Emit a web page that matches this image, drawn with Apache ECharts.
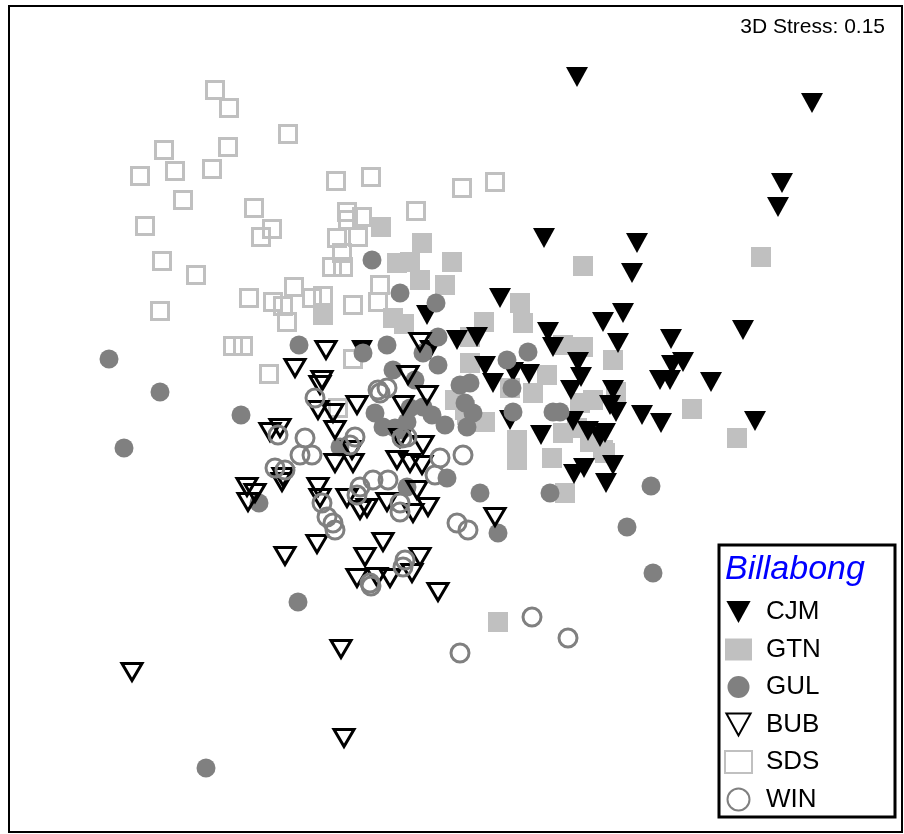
<!DOCTYPE html>
<html><head><meta charset="utf-8">
<script src="https://cdn.jsdelivr.net/npm/echarts@6/dist/echarts.min.js"></script>
<style>html,body{margin:0;padding:0;background:#fff}#c{width:904px;height:834px}</style>
</head><body><div id="c"></div>
<script>
// nMDS ordination coordinates (in plot units)
const CJM = [[577,77],[812,103],[782,183],[778,207],[544,238],[637,243],[632,273],[500,298],[623,313],[603,322],[743,330],[548,332],[671,339],[618,343],[553,347],[427,315],[430,350],[457,340],[477,337],[485,366],[493,383],[513,372],[529,374],[578,362],[581,377],[571,390],[683,362],[672,365],[660,380],[670,380],[711,382],[613,390],[616,412],[642,415],[661,423],[755,421],[605,433],[613,465],[606,483],[510,420],[541,435],[573,421],[588,431],[574,474],[584,468],[600,437],[610,405],[362,350]];
const GTN = [[761,257],[583,266],[381,227],[422,243],[452,262],[410,262],[397,263],[445,285],[420,280],[520,303],[484,322],[523,323],[323,315],[393,318],[404,324],[563,345],[583,347],[613,360],[616,392],[692,409],[737,438],[605,453],[470,337],[470,363],[455,400],[465,410],[485,422],[467,415],[510,388],[533,393],[517,440],[517,460],[552,458],[547,375],[580,403],[593,400],[563,433],[590,442],[603,450],[577,428],[565,493],[498,622]];
const GUL = [[372,260],[400,293],[436,303],[299,345],[109,359],[160,392],[241,415],[124,448],[259,503],[298,602],[206,768],[651,486],[627,527],[653,573],[363,353],[387,345],[438,337],[423,353],[438,365],[393,370],[415,380],[460,385],[470,383],[507,360],[512,388],[513,412],[553,412],[560,412],[528,352],[480,493],[550,493],[423,407],[445,425],[432,415],[410,408],[407,422],[375,413],[383,427],[340,447],[402,430],[465,403],[473,413],[467,427],[447,478],[407,487],[498,533],[395,428]];
const BUB = [[132,672],[344,738],[341,649],[285,556],[317,544],[295,368],[326,350],[322,380],[270,432],[280,428],[283,477],[247,487],[255,493],[248,502],[318,410],[333,413],[357,405],[320,385],[335,430],[352,450],[335,463],[353,463],[282,482],[318,487],[320,498],[347,498],[360,510],[367,508],[383,542],[365,557],[420,557],[357,578],[377,577],[390,578],[412,573],[438,592],[400,438],[423,445],[397,460],[410,463],[422,465],[417,490],[387,502],[413,513],[428,507],[408,375],[427,395],[403,405],[420,342],[495,517]];
const SDS = [[215,90],[229,108],[288,134],[164,150],[228,147],[175,171],[140,176],[212,169],[183,200],[254,208],[272,229],[261,237],[145,226],[162,261],[196,275],[336,181],[371,177],[462,188],[495,182],[416,211],[347,212],[362,217],[348,220],[358,237],[337,238],[342,253],[332,267],[343,267],[380,285],[378,302],[294,287],[249,298],[273,302],[283,306],[287,322],[160,311],[233,346],[243,346],[269,374],[323,296],[312,298],[353,305],[353,359],[338,408]];
const WIN = [[532,617],[568,638],[460,653],[371,586],[403,567],[315,398],[278,435],[305,438],[300,455],[312,455],[355,437],[350,445],[275,468],[285,470],[322,503],[357,495],[327,517],[333,523],[335,530],[405,560],[370,583],[380,393],[387,388],[402,438],[373,480],[388,480],[360,487],[400,503],[400,512],[463,455],[440,458],[435,475],[457,523],[468,530],[407,437],[378,390]];
const legendOrder = ['CJM','GTN','GUL','BUB','SDS','WIN'];
const stressText = '3D Stress: 0.15';
const legendTitle = 'Billabong';

const FONT = '"Liberation Sans", Arial, sans-serif';
const DOWN = 'path://M0,0L22,0L11,20Z';
const chart = echarts.init(document.getElementById('c'), null, {renderer:'canvas'});
const option = {
  animation:false,
  backgroundColor:'#fff',
  grid:{left:9, top:6, width:893, height:826, show:false},
  xAxis:{type:'value', min:9, max:902, show:false},
  yAxis:{type:'value', min:6, max:832, inverse:true, show:false},
  legend:{
    orient:'vertical', left:724, top:599, padding:0, itemWidth:27, itemHeight:22, itemGap:11.5,
    selectedMode:false, data:legendOrder,
    textStyle:{fontSize:26, fontFamily:FONT, color:'#000', lineHeight:26, padding:[0,0,0,9]}
  },
  series:[
    {name:'GTN', type:'scatter', data:GTN, symbol:'rect', symbolSize:20, itemStyle:{color:'#c0c0c0', opacity:1}},
    {name:'SDS', type:'scatter', data:SDS, symbol:'rect', symbolSize:17, itemStyle:{color:'transparent', borderColor:'#c0c0c0', borderWidth:3, opacity:1}},
    {name:'CJM', type:'scatter', data:CJM, symbol:DOWN, symbolSize:[22,20], itemStyle:{color:'#000', opacity:1}},
    {name:'GUL', type:'scatter', data:GUL, symbol:'circle', symbolSize:19, itemStyle:{color:'#808080', opacity:1}},
    {name:'BUB', type:'scatter', data:BUB, symbol:DOWN, symbolSize:[20,17], itemStyle:{color:'transparent', borderColor:'#000', borderWidth:3, opacity:1}},
    {name:'WIN', type:'scatter', data:WIN, symbol:'circle', symbolSize:18, itemStyle:{color:'transparent', borderColor:'#808080', borderWidth:3, opacity:1}}
  ],
  graphic:[
    {type:'rect', z:-1, shape:{x:9, y:6, width:893, height:826}, style:{fill:'none', stroke:'#000', lineWidth:2}},
    {type:'text', right:19, top:17, style:{text:stressText, font:'21px '+FONT, fill:'#000'}},
    {type:'rect', z:0, shape:{x:719, y:545, width:176, height:272}, style:{fill:'#fff', stroke:'#000', lineWidth:3}},
    {type:'text', z:1, left:725, top:553, style:{text:legendTitle, font:'italic 34px '+FONT, fill:'#0000ff'}}
  ]
};
chart.setOption(option);
</script></body></html>
